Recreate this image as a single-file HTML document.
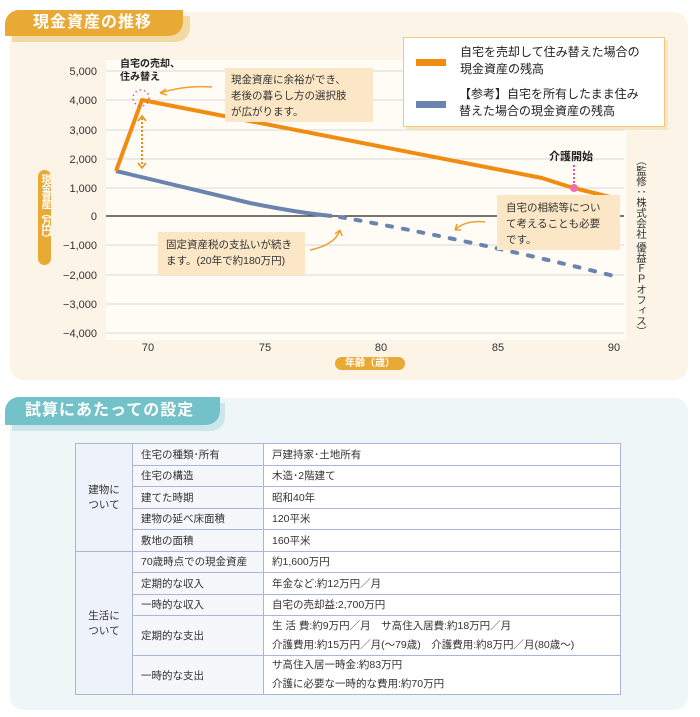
<!DOCTYPE html>
<html><head><meta charset="utf-8"><style>
body{margin:0;width:700px;height:717px;background:#fff;font-family:"Liberation Sans","Noto Sans CJK JP",sans-serif;position:relative;overflow:hidden}
.abs{position:absolute}
.tab{position:absolute;color:#fff;font-weight:bold;font-size:16px;border-radius:14px 0 14px 0;white-space:nowrap}
table{position:absolute;left:75px;top:443px;width:546px;border-collapse:collapse;font-size:10.5px;color:#333}
td{border:1.5px solid #aab6d6;padding:0 0 0 8px;height:20.5px}
td.g{background:#eef2f9;text-align:center;padding:0}
td.h{background:#f5f7fb;width:122px}
</style></head><body>
<div class="abs" style="left:10px;top:12px;width:678px;height:368px;background:#fcf4e6;border-radius:14px"></div>
<div class="abs" style="left:12px;top:16px;width:178px;height:26px;background:#f3d9a4;border-radius:14px 0 14px 0"></div>
<div class="tab" style="left:5px;top:10px;width:178px;height:26px;background:#e9a935;line-height:26px;text-indent:28px;letter-spacing:1px">現金資産の推移</div>
<svg class="abs" style="left:0;top:0" width="700" height="380">
<rect x="106" y="60" width="520" height="280" fill="#fffcf6"/>
<g stroke="#d8d8d8" stroke-width="1">
<line x1="106" x2="624" y1="71" y2="71"/><line x1="106" x2="624" y1="100" y2="100"/><line x1="106" x2="624" y1="130" y2="130"/><line x1="106" x2="624" y1="159" y2="159"/><line x1="106" x2="624" y1="188" y2="188"/><line x1="106" x2="624" y1="245" y2="245"/><line x1="106" x2="624" y1="275" y2="275"/><line x1="106" x2="624" y1="304" y2="304"/><line x1="106" x2="624" y1="333" y2="333"/></g>
<line x1="106" x2="624" y1="216" y2="216" stroke="#222" stroke-width="1.2"/>
<g font-size="11" fill="#333" text-anchor="end"><text x="97" y="75">5,000</text><text x="97" y="104">4,000</text><text x="97" y="134">3,000</text><text x="97" y="163">2,000</text><text x="97" y="192">1,000</text><text x="97" y="220">0</text><text x="97" y="249">−1,000</text><text x="97" y="279">−2,000</text><text x="97" y="308">−3,000</text><text x="97" y="337">−4,000</text></g>
<g font-size="11" fill="#333" text-anchor="middle"><text x="148" y="351">70</text><text x="265" y="351">75</text><text x="381" y="351">80</text><text x="498" y="351">85</text><text x="614" y="351">90</text></g>
<path d="M116,171 L250,203 Q300,213 332,216" fill="none" stroke="#6b84ad" stroke-width="4"/>
<path d="M340,217 Q470,240 614,276" fill="none" stroke="#6b84ad" stroke-width="4" stroke-dasharray="5,11" stroke-linecap="round"/>
<path d="M116,171 L142,100 L542,178 Q560,184 574,188 L614,198" fill="none" stroke="#f08c10" stroke-width="4" stroke-linejoin="round"/>
<circle cx="141" cy="98" r="8" fill="none" stroke="#ee4fa6" stroke-width="1.5" stroke-dasharray="1.5,3"/>
<line x1="142" y1="118" x2="142" y2="166" stroke="#f08c10" stroke-width="2" stroke-dasharray="2,2"/>
<path d="M138,121 L142,116 L146,121 M138,163 L142,168 L146,163" fill="none" stroke="#f08c10" stroke-width="1.5"/>
<line x1="574" y1="165" x2="574" y2="185" stroke="#ee4fa6" stroke-width="2" stroke-dasharray="2,2"/>
<circle cx="574" cy="188" r="4" fill="#ee6fa6"/>
<rect x="38" y="170" width="13" height="95" rx="6.5" fill="#e9a935"/>
<rect x="335" y="357" width="70" height="13" rx="6.5" fill="#e9a935"/>
<path d="M212,87 Q185,85 160,93 M160,93 l6,-4 M160,93 l7,2" fill="none" stroke="#f0a030" stroke-width="1.5"/>
<path d="M310,250 Q335,245 340,230 M340,230 l-5,4 M340,230 l2,6" fill="none" stroke="#f0a030" stroke-width="1.5"/>
<path d="M485,222 Q465,220 455,230 M455,230 l2,-6 M455,230 l6,0" fill="none" stroke="#f0a030" stroke-width="1.5"/>
</svg>
<div class="abs" style="left:38px;top:174px;width:13px;height:90px;font-size:10px;color:#fff;font-weight:bold;line-height:13px;writing-mode:vertical-rl;letter-spacing:-1.5px">現金資産（万円）</div>
<div class="abs" style="left:335px;top:357px;width:70px;font-size:10px;color:#fff;font-weight:bold;line-height:13px;text-align:center">年齢（歳）</div>
<div class="abs" style="left:120px;top:58px;font-size:10px;font-weight:bold;color:#222;line-height:13px">自宅の売却、<br>住み替え</div>
<div class="abs" style="left:225px;top:68px;width:148px;height:54px;background:#fbe7c6;font-size:10.5px;color:#333;line-height:16px;padding:4px 0 0 6px;box-sizing:border-box">現金資産に余裕ができ、<br>老後の暮らし方の選択肢<br>が広がります。</div>
<div class="abs" style="left:158px;top:232px;width:147px;height:43px;background:#fbe7c6;font-size:10.5px;color:#333;line-height:16px;padding:5px 0 0 8px;box-sizing:border-box">固定資産税の支払いが続き<br>ます。(20年で約180万円)</div>
<div class="abs" style="left:497px;top:195px;width:123px;height:55px;background:#fbe7c6;font-size:10.5px;color:#333;line-height:16px;padding:5px 0 0 9px;box-sizing:border-box">自宅の相続等につい<br>て考えることも必要<br>です。</div>
<div class="abs" style="left:549px;top:148px;font-size:11px;font-weight:bold;color:#222">介護開始</div>
<div class="abs" style="left:403px;top:37px;width:262px;height:90px;background:#fff;border:1.5px solid #f3c77a;box-sizing:border-box;box-shadow:3px 3px 0 #f6e6c8"></div>
<div class="abs" style="left:416px;top:59px;width:30px;height:7px;background:#f08c10"></div>
<div class="abs" style="left:416px;top:101px;width:30px;height:7px;background:#6b84ad"></div>
<div class="abs" style="left:460px;top:44px;font-size:12px;color:#222;line-height:17px">自宅を売却して住み替えた場合の<br>現金資産の残高</div>
<div class="abs" style="left:459px;top:86px;font-size:12px;color:#222;line-height:17px">【参考】自宅を所有したまま住み<br>替えた場合の現金資産の残高</div>
<div class="abs" style="left:635px;top:155px;width:12px;font-size:10.5px;color:#333;line-height:12px;writing-mode:vertical-rl">（監修：株式会社 優益ＦＰオフィス）</div>

<div class="abs" style="left:10px;top:398px;width:678px;height:312px;background:#eef6f7;border-radius:14px"></div>
<div class="abs" style="left:12px;top:403px;width:213px;height:28px;background:#cde6ea;border-radius:14px 0 14px 0"></div>
<div class="tab" style="left:5px;top:397px;width:215px;height:28px;background:#73c1c9;line-height:28px;text-indent:20px;border-radius:14px 0 14px 0;letter-spacing:1px">試算にあたっての設定</div>
<table>
<tr><td class="g" rowspan="5" style="width:56px">建物に<br>ついて</td><td class="h">住宅の種類･所有</td><td style="background:#fff">戸建持家･土地所有</td></tr>
<tr><td class="h">住宅の構造</td><td style="background:#fff">木造･2階建て</td></tr>
<tr><td class="h">建てた時期</td><td style="background:#fff">昭和40年</td></tr>
<tr><td class="h">建物の延べ床面積</td><td style="background:#fff">120平米</td></tr>
<tr><td class="h">敷地の面積</td><td style="background:#fff">160平米</td></tr>
<tr><td class="g" rowspan="5">生活に<br>ついて</td><td class="h">70歳時点での現金資産</td><td style="background:#fff">約1,600万円</td></tr>
<tr><td class="h">定期的な収入</td><td style="background:#fff">年金など:約12万円／月</td></tr>
<tr><td class="h">一時的な収入</td><td style="background:#fff">自宅の売却益:2,700万円</td></tr>
<tr><td class="h" style="height:39px">定期的な支出</td><td style="background:#fff;line-height:19px">生 活 費:約9万円／月　サ高住入居費:約18万円／月<br>介護費用:約15万円／月(〜79歳)　介護費用:約8万円／月(80歳〜)</td></tr>
<tr><td class="h" style="height:38px">一時的な支出</td><td style="background:#fff;line-height:19px">サ高住入居一時金:約83万円<br>介護に必要な一時的な費用:約70万円</td></tr>
</table>
</body></html>
